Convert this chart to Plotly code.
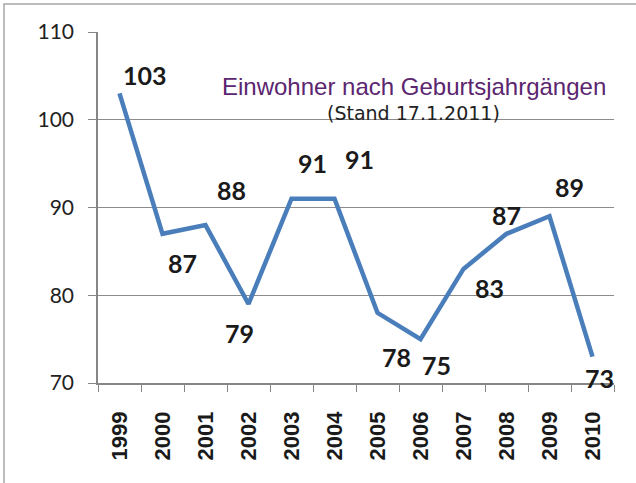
import plotly.graph_objects as go

years = ["1999", "2000", "2001", "2002", "2003", "2004", "2005", "2006", "2007", "2008", "2009", "2010"]
einwohner = [103, 87, 88, 79, 91, 91, 78, 75, 83, 87, 89, 73]
title_text = "Einwohner nach Geburtsjahrgängen"
subtitle_text = "(Stand 17.1.2011)"
y_ticks = [70, 80, 90, 100, 110]

# label offsets (pixels, x right / y down) - styling only
label_dx = [25, 20, 26, -9, 21, 25, 19, 16, 26, 0, 20, 7]
label_dy = [-18, 29, -35, 29, -36, -40, 44, 26, 19, -19, -29, 21]

W, H = 636, 483
ML, MR, MT, MB = 98, 22, 32, 100
pw, ph = W - ML - MR, H - MT - MB

fig = go.Figure()
fig.add_trace(go.Scatter(
    x=years, y=einwohner, mode="lines",
    line=dict(color="#4A7EBB", width=4.5),
    hoverinfo="skip", showlegend=False,
))

for i, (v, dx, dy) in enumerate(zip(einwohner, label_dx, label_dy)):
    fig.add_annotation(x=i, y=v, xref="x", yref="y", text=str(v),
                       showarrow=False, xshift=dx, yshift=-dy,
                       font=dict(family="Lato", size=25, color="#1a1a1a", weight="bold"))

# title
fig.add_annotation(x=(414 - ML) / pw, y=(H - MB - 71) / ph, xref="paper", yref="paper",
                   text=title_text, showarrow=False,
                   font=dict(family="Liberation Sans Narrow, Liberation Sans", size=24, color="#5B2570"))
fig.add_annotation(x=(413 - ML) / pw, y=(H - MB - 100) / ph, xref="paper", yref="paper",
                   text=subtitle_text, showarrow=False,
                   font=dict(family="DejaVu Sans", size=19, color="#222222"))

# outer frame (top + left visible)
fig.add_shape(type="rect", xref="paper", yref="paper",
              x0=(4 - ML) / pw, x1=(W + 20 - ML) / pw,
              y0=(H - MB - (H + 20)) / ph, y1=(H - MB - 4) / ph,
              line=dict(color="#A6A6A6", width=1.5), fillcolor="rgba(0,0,0,0)", layer="below")

fig.update_layout(
    width=W, height=H,
    margin=dict(l=ML, r=MR, t=MT, b=MB),
    paper_bgcolor="white", plot_bgcolor="white",
    showlegend=False,
)
fig.update_xaxes(
    type="category", tickson="boundaries", range=[-0.5, 11.5],
    ticks="outside", ticklen=7, tickcolor="#868686",
    showline=True, linecolor="#868686", linewidth=1.5,
    showgrid=False, tickangle=-90, ticklabelstandoff=18,
    tickfont=dict(family="Liberation Sans", size=22, color="#1a1a1a", weight="bold"),
)
fig.update_yaxes(
    range=[70, 110], tickvals=y_ticks,
    ticks="outside", ticklen=8, tickcolor="#868686",
    showline=True, linecolor="#868686", linewidth=1.5,
    showgrid=True, gridcolor="#8C8C8C", gridwidth=1,
    ticklabelstandoff=10,
    tickfont=dict(family="Lato", size=21, color="#222222"),
    zeroline=False,
)

fig.write_html("out.html", post_script="document.body.style.margin='0';",
               config={"displayModeBar": False})
